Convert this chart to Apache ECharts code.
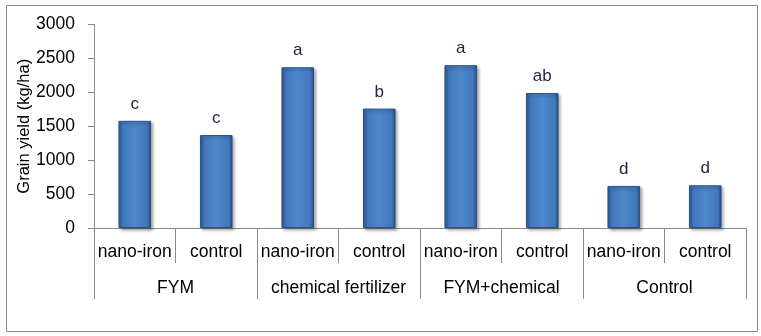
<!DOCTYPE html>
<html>
<head>
<meta charset="utf-8">
<script src="https://cdn.jsdelivr.net/npm/echarts@6/dist/echarts.min.js"></script>
<style>html,body{margin:0;padding:0;background:#fff}#c{width:761px;height:336px}</style>
</head>
<body>
<div id="c"></div>
<script>
const subCategories = ['nano-iron','control','nano-iron','control','nano-iron','control','nano-iron','control'];
const groups = ['FYM','chemical fertilizer','FYM+chemical','Control'];
const grainYield = [1580, 1370, 2370, 1760, 2400, 1990, 620, 630];
const letters = ['c','c','a','b','a','ab','d','d'];
const yTicks = { min: 0, max: 3000, interval: 500 };
const yName = 'Grain yield (kg/ha)';

const chart = echarts.init(document.getElementById('c'), null, {renderer: 'canvas'});
const axisGray = '#898989';
const txtFont = 'Liberation Sans';
chart.setOption({
  animation: false,
  backgroundColor: '#fff',
  grid: { left: 94, right: 15, top: 24.5, bottom: 108, containLabel: false },
  graphic: [{
    type: 'rect', shape: { x: 6.5, y: 5.5, width: 751, height: 326 },
    style: { fill: 'none', stroke: axisGray, lineWidth: 1 }, z: -1
  }],
  xAxis: [{
    type: 'category', data: subCategories, position: 'bottom',
    axisLine: { show: true, lineStyle: { color: axisGray, width: 1 } },
    axisTick: { show: true, interval: 0, length: 35, lineStyle: { color: axisGray } },
    axisLabel: { interval: 0, margin: 15, fontFamily: txtFont, fontSize: 17.5, color: '#000' },
    splitLine: { show: false }
  }, {
    type: 'category', data: groups, position: 'bottom',
    axisLine: { show: true, lineStyle: { color: axisGray, width: 1 } },
    axisTick: { show: true, interval: 0, length: 71, lineStyle: { color: axisGray } },
    axisLabel: { interval: 0, margin: 51, fontFamily: txtFont, fontSize: 17.5, color: '#000' },
    splitLine: { show: false }
  }],
  yAxis: {
    type: 'value', min: yTicks.min, max: yTicks.max, interval: yTicks.interval,
    name: yName, nameLocation: 'middle', nameRotate: 90, nameGap: 61, nameMoveOverlap: false,
    nameTextStyle: { fontFamily: txtFont, fontSize: 16.5, color: '#000' },
    axisLine: { show: true, lineStyle: { color: axisGray, width: 1 } },
    axisTick: { show: true, length: 6, lineStyle: { color: axisGray } },
    axisLabel: { margin: 19, fontFamily: 'Liberation Sans', fontSize: 17.5, color: '#000',
      formatter: v => String(v) },
    splitLine: { show: false }
  },
  series: [{
    type: 'bar', xAxisIndex: 0, data: grainYield, barWidth: '40%',
    itemStyle: {
      color: new echarts.graphic.LinearGradient(0, 0, 1, 0, [
        { offset: 0, color: '#2c5892' },
        { offset: 0.12, color: '#4279bd' },
        { offset: 0.5, color: '#4d86cb' },
        { offset: 0.88, color: '#4279bd' },
        { offset: 1, color: '#24497c' }
      ]),
      borderColor: '#2a5287', borderWidth: 1,
      shadowColor: 'rgba(0,0,0,0.35)', shadowBlur: 3, shadowOffsetX: 2, shadowOffsetY: 2
    },
    label: {
      show: true, position: 'top', distance: 8,
      formatter: p => letters[p.dataIndex],
      fontFamily: txtFont, fontSize: 17, color: '#1d2440'
    }
  }]
});
</script>
</body>
</html>
